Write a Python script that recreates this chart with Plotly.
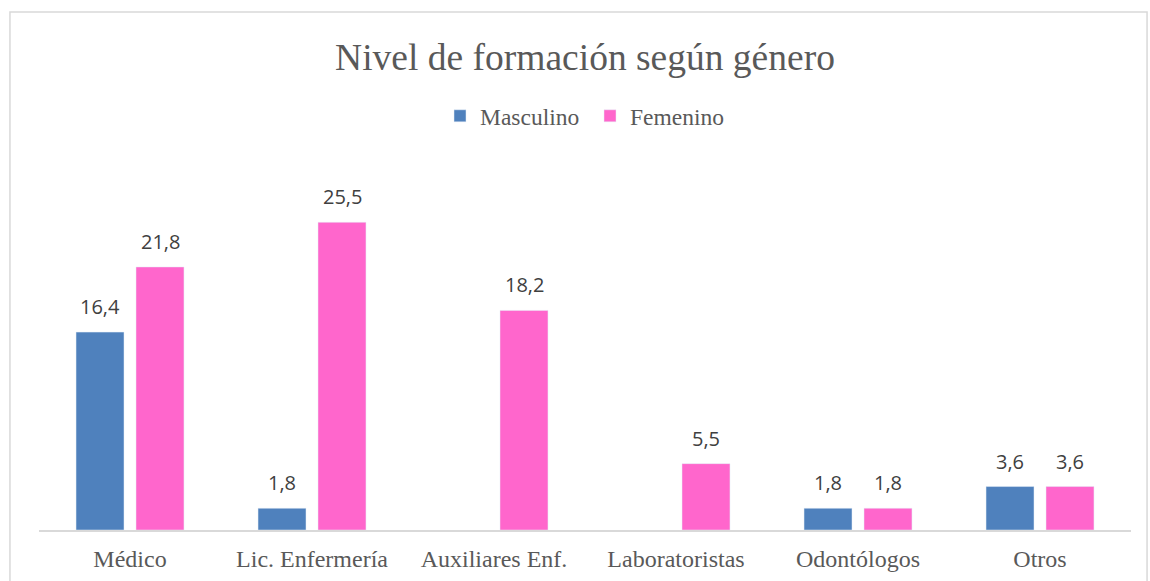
import plotly.graph_objects as go

categories = ["Médico", "Lic. Enfermería", "Auxiliares Enf.", "Laboratoristas", "Odontólogos", "Otros"]
masculino = [16.4, 1.8, None, None, 1.8, 3.6]
femenino = [21.8, 25.5, 18.2, 5.5, 1.8, 3.6]
title_text = "Nivel de formación según género"

BLUE = "#4F81BD"
PINK = "#FF66CC"
GRAY = "#595959"
SERIF = "Liberation Serif, Times New Roman, serif"

fig = go.Figure()
fig.add_trace(go.Bar(name="Masculino", x=categories, y=masculino, marker_color=BLUE))
fig.add_trace(go.Bar(name="Femenino", x=categories, y=femenino, marker_color=PINK))

# data labels
for vals, shift in ((masculino, -30), (femenino, 30)):
    for c, v in zip(categories, vals):
        if v is None:
            continue
        fig.add_annotation(x=c, y=v, xref="x", yref="y", text=f"{v:.1f}".replace(".", ","),
                           showarrow=False, xshift=shift, yshift=10, yanchor="bottom",
                           font=dict(family="Open Sans, sans-serif", size=20, color="#404040"))

# chart border
fig.add_shape(type="rect", xref="paper", yref="paper", x0=-0.0266, x1=1.0147, y0=-0.2, y1=1.4309,
              line=dict(color="#D9D9D9", width=1.5), fillcolor="rgba(0,0,0,0)", layer="below")

fig.update_layout(
    width=1150, height=581,
    margin=dict(l=39, r=19, t=168, b=51, autoexpand=False),
    paper_bgcolor="white", plot_bgcolor="white",
    barmode="group", bargap=0.341, bargroupgap=0.2,
    title=dict(text=title_text, x=0.5, xref="paper", xanchor="center",
               y=1 - 57 / 581, yref="container", yanchor="middle",
               font=dict(family=SERIF, size=37.5, color=GRAY)),
    legend=dict(orientation="h", x=0.5 + 5 / 1092, xanchor="center", y=1.1436, yanchor="middle",
                font=dict(family=SERIF, size=23.5, color=GRAY), entrywidth=105,
                itemclick=False),
    xaxis=dict(showline=True, linecolor="#D9D9D9", linewidth=1.5, ticks="", showgrid=False,
               ticklabelstandoff=6, automargin=False,
               tickfont=dict(family=SERIF, size=24, color=GRAY)),
    yaxis=dict(range=[0, 30], visible=False, showgrid=False, zeroline=False, automargin=False),
)

fig.write_html("out.html", config={"displayModeBar": False},
               post_script="document.body.style.margin='0';")
